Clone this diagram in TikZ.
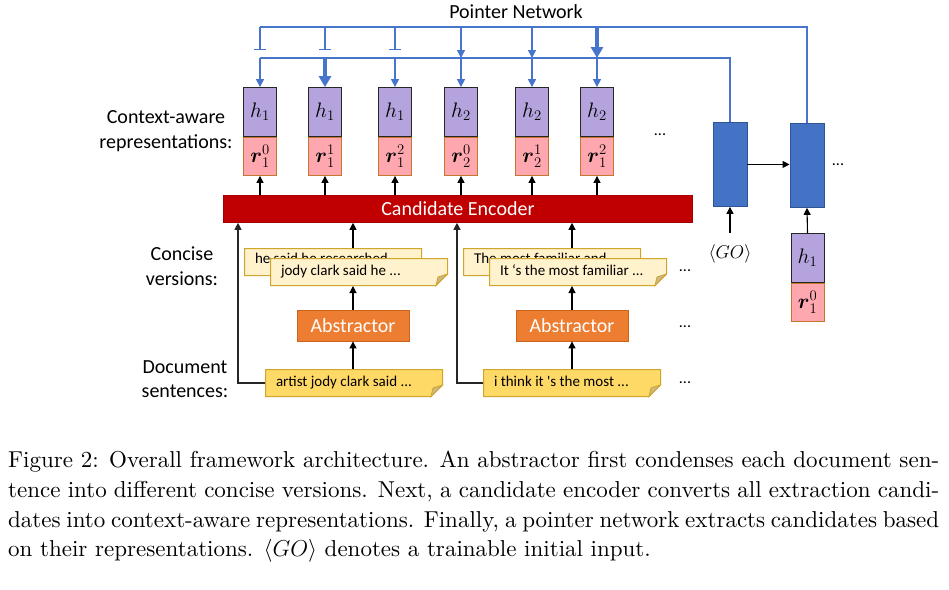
\RequirePackage{fix-cm}
\documentclass[tikz,border=0pt]{standalone}
\usepackage{amsmath}
\usepackage{fontspec}
\newfontfamily\cf{Carlito}
\newfontfamily\capfont{lmroman10-regular}[Extension=.otf]
\usetikzlibrary{arrows.meta}
\definecolor{hfill}{HTML}{B4A3DD}
\definecolor{hbord}{HTML}{262626}
\definecolor{rfill}{HTML}{FFA7AF}
\definecolor{rbord}{HTML}{C5762F}
\definecolor{bfill}{HTML}{4472C4}
\definecolor{bbord}{HTML}{2F5597}
\definecolor{bline}{HTML}{4775CC}
\definecolor{encfill}{HTML}{C00000}
\definecolor{encbord}{HTML}{A50000}
\definecolor{absfill}{HTML}{ED7D31}
\definecolor{absbord}{HTML}{C8641E}
\definecolor{docfill}{HTML}{FFD966}
\definecolor{confill}{HTML}{FFF2CC}
\definecolor{notebord}{HTML}{CFA52A}
\definecolor{foldc}{HTML}{CDB785}
\newcommand\ctxbox[4]{%
  \node[rbox, anchor=north] (r#1) at (#2,137) {$\boldsymbol{r}#4$};
  \node[hbox, anchor=south] (h#1) at (#2,137) {$h_{#3}$};
}
\newcommand\nt[2][4pt]{\raisebox{#1}{\makebox[156pt][l]{#2}}}
\begin{document}
\begin{tikzpicture}[x=1pt,y=-1pt,
  lab/.style={font=\cf\fontsize{20}{24.5}\selectfont, align=center, inner sep=0pt},
  dots/.style={font=\cf\fontsize{16}{16}\selectfont, inner sep=0pt},
  hbox/.style={draw=hbord, fill=hfill, line width=0.9pt, minimum width=33pt, minimum height=49pt, inner sep=0pt, font=\fontsize{21}{21}\selectfont},
  rbox/.style={draw=rbord, fill=rfill, line width=0.9pt, minimum width=33pt, minimum height=38pt, inner sep=0pt, font=\fontsize{21}{21}\selectfont},
  bluebox/.style={draw=bbord, fill=bfill, line width=0.9pt, minimum width=34pt, minimum height=84pt, inner sep=0pt},
  enc/.style={draw=encbord, fill=encfill, line width=0.8pt, text=white, font=\cf\fontsize{20}{20}\selectfont, inner sep=0pt},
  absx/.style={draw=absbord, fill=absfill, line width=0.8pt, text=white, font=\cf\fontsize{20}{20}\selectfont, minimum width=112pt, minimum height=31pt, inner sep=0pt},
  note/.style={anchor=north west, minimum width=178pt, minimum height=28pt,
    inner xsep=11pt, inner ysep=0pt, outer sep=0pt, font=\cf\fontsize{15}{16}\selectfont,
    path picture={
      \filldraw[fill=#1, draw=notebord, line width=1pt]
        ([xshift=.5pt,yshift=-.5pt]path picture bounding box.north west) --
        ([xshift=-.5pt,yshift=-.5pt]path picture bounding box.north east) --
        ([xshift=-.5pt,yshift=12pt]path picture bounding box.south east) --
        ([xshift=-12pt,yshift=.5pt]path picture bounding box.south east) --
        ([xshift=.5pt,yshift=.5pt]path picture bounding box.south west) -- cycle;
      \filldraw[fill=foldc, draw=notebord, line width=0.8pt]
        ([xshift=-.5pt,yshift=12pt]path picture bounding box.south east) --
        ([xshift=-10pt,yshift=9pt]path picture bounding box.south east) --
        ([xshift=-12pt,yshift=.5pt]path picture bounding box.south east) -- cycle;
    }},
  blk/.style={draw=black, line width=1.1pt, -{Triangle[width=7pt,length=7pt]}},
  bl/.style={draw=bline, line width=1.2pt},
  blarrow/.style={draw=bline, line width=1.2pt, -{Triangle[width=8pt,length=8pt]}},
  blthick/.style={draw=bline, line width=3.6pt, -{Triangle[width=12pt,length=11pt]}},
  blbar/.style={draw=bline, line width=1.2pt, -{Bar[width=12pt]}},
  capline/.style={anchor=base west, inner sep=0pt, font=\capfont\fontsize{23}{27}\selectfont}
]
\useasboundingbox (0,0) rectangle (949,589);
\fill[white] (0,0) rectangle (949,589);

% title
\node[lab] (pn) at (516,12) {Pointer Network};

% context-aware representations
\ctxbox{1}{260}{1}{_1^0}
\ctxbox{2}{325}{1}{_1^1}
\ctxbox{3}{395}{1}{_1^2}
\ctxbox{4}{461}{2}{_2^0}
\ctxbox{5}{532}{2}{_2^1}
\ctxbox{6}{597}{2}{_1^2}
\node[dots] (d1) at (660,135) {...};

% decoder boxes
\node[bluebox, anchor=north] (B1) at (730,122) {};
\node[bluebox, anchor=north] (B2) at (807,123) {};
\node[dots] (d2) at (838,165) {...};
\node[rbox, anchor=north] (rg) at (807.5,283) {$\boldsymbol{r}_1^0$};
\node[hbox, anchor=south] (hg) at (807.5,283) {$h_1$};
\node[inner sep=0pt, font=\fontsize{18.5}{18.5}\selectfont] (go) at (730,254) {$\langle GO\rangle$};
\draw[blk] ([yshift=12pt]go.north) -- (B1.south);
\draw[blk] (hg.north) -- (B2.south);
\draw[blk] (B1.east) -- (B1.east -| B2.west);

% pointer network lines
\coordinate (tp0) at (260,27);
\coordinate (sp0) at (260,58);
\coordinate (barY) at (0,50);
\draw[bl] (tp0) -| (B2.north);
\draw[bl] (sp0) -| (B1.north);
\foreach \i in {1,2,3} \draw[blbar] (tp0 -| h\i.north) -- (barY -| h\i.north);
\foreach \i in {4,5} \draw[blarrow] (tp0 -| h\i.north) -- (sp0 -| h\i.north);
\draw[blthick] (tp0 -| h6.north) -- (sp0 -| h6.north);
\foreach \i in {1,3,4,5,6} \draw[blarrow] (sp0 -| h\i.north) -- (h\i.north);
\draw[blthick] (sp0 -| h2.north) -- (h2.north);

% encoder
\node[enc, minimum width=469pt, minimum height=27pt, anchor=north west] (enc) at (223,195) {Candidate Encoder};
\foreach \i in {1,...,6} \draw[blk] (enc.north -| r\i.south) -- (r\i.south);

% left column
\node[note=docfill] (docL) at (265,369) {\nt{artist jody clark said ...}};
\node[note=confill] (cbL) at (244,248) {\nt[7pt]{he said he researched ...}};
\node[note=confill] (cfL) at (270,258) {\nt{jody clark said he ...}};
\node[absx] (absL) at (353,325.5) {Abstractor};
\draw[blk] (docL.north -| absL.south) -- (absL.south);
\draw[blk] (absL.north) -- (absL.north |- cfL.south);
\draw[blk] (absL.north |- cbL.north) -- (absL.north |- enc.south);
\draw[blk, draw=black!85] (docL.west) -| ([xshift=15pt]enc.south west);

% right column
\node[note=docfill] (docR) at (483,369) {\nt{i think it \textquotesingle s the most ...}};
\node[note=confill] (cbR) at (463,248) {\nt[7pt]{The most familiar and ...}};
\node[note=confill] (cfR) at (489,258) {\nt{It ‘s the most familiar ...}};
\node[absx] (absR) at (572,325.5) {Abstractor};
\draw[blk] (docR.north -| absR.south) -- (absR.south);
\draw[blk] (absR.north) -- (absR.north |- cfR.south);
\draw[blk] (absR.north |- cbR.north) -- (absR.north |- enc.south);
\draw[blk, draw=black!85] (docR.west) -| ([xshift=234pt]enc.south west);
\node[dots] (d3) at (685,271) {...};
\node[dots] (d4) at (685,327) {...};
\node[dots] (d5) at (685,383) {...};

% row labels
\node[lab] (lctx) at (166,131) {Context-aware\\representations:};
\node[lab] (lcon) at (182,266) {Concise\\versions:};
\node[lab] (ldoc) at (185,379) {Document\\sentences:};

% caption
\node[capline] (cap1) at (8,467) {\hbox to 931pt{Figure 2: Overall framework architecture. An abstractor first condenses each document sen-}};
\node[capline] (cap2) at (8,497) {\hbox to 931pt{tence into different concise versions. Next, a candidate encoder converts all extraction candi-}};
\node[capline] (cap3) at (8,527) {\hbox to 931pt{dates into context-aware representations. Finally, a pointer network extracts candidates based}};
\node[capline] (cap4) at (8,556) {on their representations. $\langle GO\rangle$ denotes a trainable initial input.};
\end{tikzpicture}
\end{document}
